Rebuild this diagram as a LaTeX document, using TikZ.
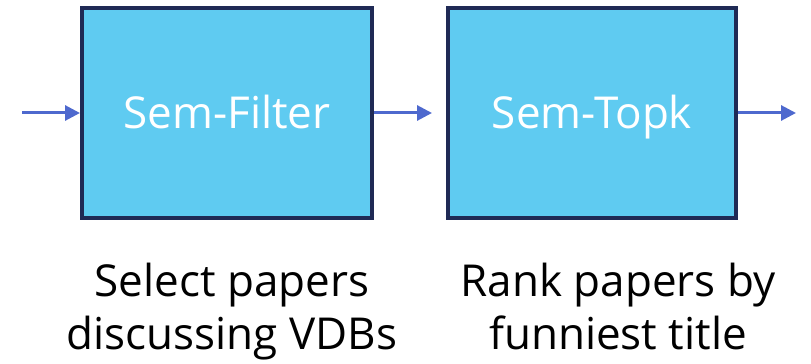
\documentclass[tikz,border=0pt]{standalone}
\usepackage{fontspec}
\setmainfont{Open Sans}
\usetikzlibrary{arrows.meta}
\definecolor{boxfill}{RGB}{95,203,241}
\definecolor{boxline}{RGB}{31,42,85}
\definecolor{arrowcol}{RGB}{78,105,206}
\tikzset{
  opbox/.style={draw=boxline, fill=boxfill, line width=4pt, inner sep=0pt,
    minimum width=290pt, minimum height=210pt, text=white,
    text height=31pt, text depth=0pt,
    font=\fontsize{44pt}{50pt}\selectfont},
  flow/.style={draw=arrowcol, line width=3pt, -{Triangle[length=15pt,width=15pt]}},
  desc/.style={align=center, inner sep=0pt, font=\fontsize{44pt}{53pt}\selectfont}
}
\begin{document}
\begin{tikzpicture}[x=1pt,y=1pt]
\useasboundingbox (0,0) rectangle (811,364);
\node[opbox] (b1) at (227,251) {Sem-Filter};
\node[opbox, minimum width=288pt] (b2) at (592,251) {Sem-Topk};
\coordinate (in) at (22,251);
\coordinate (out) at (796,251);
\draw[flow] (in) -- (b1.west);
\draw[flow, shorten >=14pt] (b1.east) -- (b2.west);
\draw[flow] (b2.east) -- (out);
\node[desc, anchor=base] (d1) at (232,14) {Select papers\\discussing VDBs};
\node[desc, anchor=base] (d2) at (618,14) {Rank papers by\\funniest title};
\end{tikzpicture}
\end{document}
